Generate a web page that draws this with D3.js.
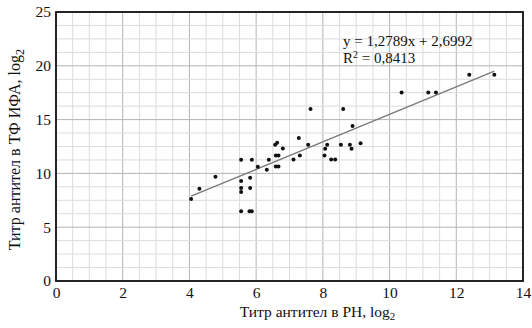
<!DOCTYPE html>
<html>
<head>
<meta charset="utf-8">
<script src="https://cdn.jsdelivr.net/npm/d3@7"></script>
<style>
  body { margin: 0; background: #fff; }
  svg text { font-family: "Liberation Serif", "Times New Roman", serif; }
</style>
</head>
<body>
<svg class="chart" width="532" height="328"></svg>
<script>
// data
var xValues = [4.05, 4.30, 4.78,
    5.55, 5.87, 5.55, 5.82, 5.55, 5.55, 5.82, 5.55, 5.80, 5.87,
    6.05, 6.32, 6.38, 6.59, 6.67, 6.59, 6.67, 6.57, 6.63, 6.80,
    7.12, 7.31, 7.28, 7.56, 7.63,
    8.61, 8.89, 8.07, 8.13, 8.05, 8.25, 8.37, 8.54, 8.81, 8.86, 9.13,
    10.36, 11.16, 11.39, 12.39, 13.14];
var yValues = [7.62, 8.58, 9.69,
    11.27, 11.27, 9.29, 9.6, 8.64, 8.27, 8.64, 6.48, 6.48, 6.48,
    10.62, 10.34, 11.27, 11.67, 11.67, 10.65, 10.65, 12.66, 12.84, 12.31,
    11.3, 11.67, 13.3, 12.66, 15.99,
    15.99, 14.41, 12.29, 12.66, 11.67, 11.3, 11.3, 12.66, 12.66, 12.29, 12.81,
    17.53, 17.53, 17.53, 19.17, 19.17];
var xTicks = [0, 2, 4, 6, 8, 10, 12, 14];
var yTicks = [0, 5, 10, 15, 20, 25];
// trend line from the equation on the chart
var slope = 1.2789, intercept = 2.6992, r2 = 0.8413;

var svg = d3.select("svg.chart");
var margin = { left: 56, right: 9, top: 12, bottom: 47 };
var width = 532 - margin.left - margin.right,
    height = 328 - margin.top - margin.bottom;

var x = d3.scaleLinear().domain([0, 14]).range([margin.left, margin.left + width]);
var y = d3.scaleLinear().domain([0, 25]).range([margin.top + height, margin.top]);

//////////// GRID ////////////
var grid = svg.append("g").attr("class", "grid");

// minor lines: every 0.5 on x, every 1.25 on y (majors a bit darker)
grid.selectAll("line.v")
    .data(d3.range(0, 14.01, 0.5))
    .enter().append("line")
    .attr("x1", (d) => x(d)).attr("x2", (d) => x(d))
    .attr("y1", y(0)).attr("y2", y(25))
    .attr("stroke", (d) => d % 2 == 0 ? "#b4b4b4" : "#dcdcdc")
    .attr("stroke-width", 1);

grid.selectAll("line.h")
    .data(d3.range(0, 25.01, 1.25))
    .enter().append("line")
    .attr("y1", (d) => y(d)).attr("y2", (d) => y(d))
    .attr("x1", x(0)).attr("x2", x(14))
    .attr("stroke", (d) => d % 5 == 0 ? "#b4b4b4" : "#dcdcdc")
    .attr("stroke-width", 1);

// frame
svg.append("rect")
    .attr("x", x(0)).attr("y", y(25))
    .attr("width", x(14) - x(0)).attr("height", y(0) - y(25))
    .attr("fill", "none")
    .attr("stroke", "#111")
    .attr("stroke-width", 1.8);

//////////// AXES ////////////
var xAxis = svg.append("g")
    .attr("transform", `translate(0, ${y(0)})`)
    .call(d3.axisBottom(x).tickValues(xTicks).tickSize(0).tickPadding(6));
var yAxis = svg.append("g")
    .attr("transform", `translate(${x(0)}, 0)`)
    .call(d3.axisLeft(y).tickValues(yTicks).tickSize(0).tickPadding(5));

svg.selectAll(".domain").remove();
xAxis.attr("font-family", null);
yAxis.attr("font-family", null);
svg.selectAll(".tick text")
    .attr("font-size", 15.5)
    .attr("fill", "#111");

// axis titles with subscript 2
var xTitle = svg.append("text")
    .attr("x", x(0) + (x(14) - x(0)) / 2 + 28)
    .attr("y", 317)
    .attr("text-anchor", "middle")
    .attr("font-size", 15.5)
    .attr("fill", "#111");
xTitle.append("tspan").text("Титр антител в РН, log");
xTitle.append("tspan").attr("font-size", 11).attr("dy", 3).text("2");

var yTitle = svg.append("text")
    .attr("transform", `translate(20, ${y(12.2)}) rotate(-90)`)
    .attr("text-anchor", "middle")
    .attr("font-size", 16)
    .attr("fill", "#111");
yTitle.append("tspan").text("Титр антител в ТФ ИФА, log");
yTitle.append("tspan").attr("font-size", 12).attr("dy", 4).text("2");

//////////// TREND LINE ////////////
var xMin = d3.min(xValues), xMax = d3.max(xValues);
svg.append("line")
    .attr("x1", x(xMin)).attr("y1", y(slope * xMin + intercept))
    .attr("x2", x(xMax)).attr("y2", y(slope * xMax + intercept))
    .attr("stroke", "#7a7a7a")
    .attr("stroke-width", 1.4);

//////////// POINTS ////////////
var points = xValues.map((d, i) => ({ x: d, y: yValues[i] }));
svg.append("g")
    .attr("class", "points")
    .selectAll("circle")
    .data(points)
    .enter().append("circle")
    .attr("cx", (d) => x(d.x))
    .attr("cy", (d) => y(d.y))
    .attr("r", 2)
    .attr("fill", "#111");

//////////// EQUATION ////////////
var fmt = (v) => String(v).replace(".", ",");
svg.append("text")
    .attr("x", 343).attr("y", 46)
    .attr("font-size", 15)
    .attr("fill", "#111")
    .text(`y = ${fmt(slope)}x + ${fmt(intercept)}`);
var r2Text = svg.append("text")
    .attr("x", 343).attr("y", 63)
    .attr("font-size", 15)
    .attr("fill", "#111");
r2Text.append("tspan").text("R");
r2Text.append("tspan").attr("font-size", 10).attr("dy", -5).text("2");
r2Text.append("tspan").attr("dy", 5).text(` = ${fmt(r2)}`);
</script>
</body>
</html>
